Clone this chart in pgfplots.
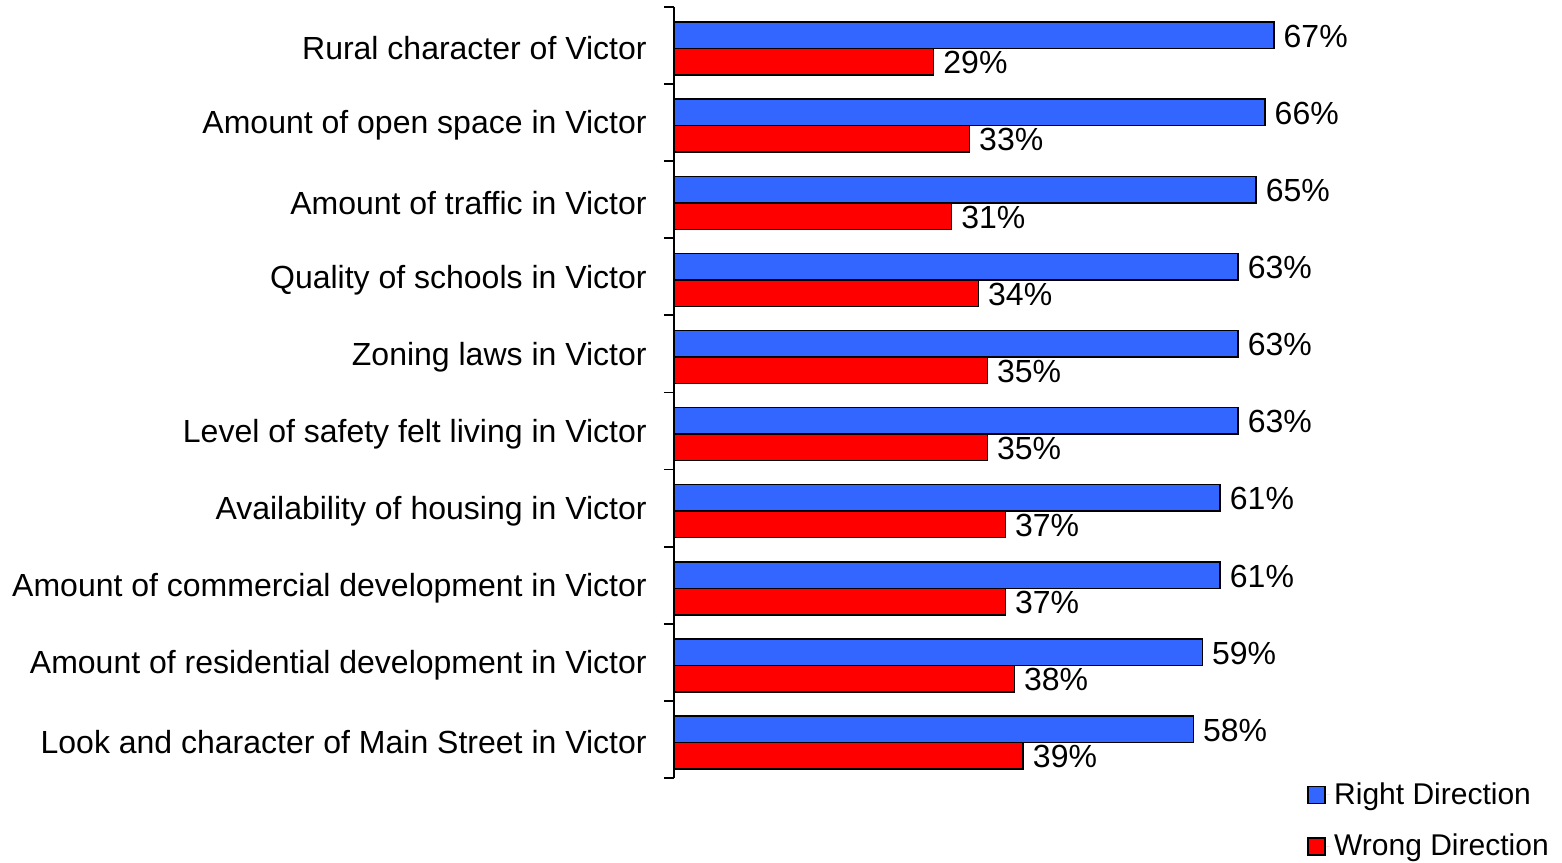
\documentclass[border=0pt]{standalone}
\usepackage{fontspec}
\setmainfont{Liberation Sans}
\usepackage{pgfplots}
\pgfplotsset{compat=1.18}
\usetikzlibrary{calc}
\definecolor{rightblue}{RGB}{51,102,255}
\definecolor{wrongred}{RGB}{255,0,0}

\begin{document}
\begin{tikzpicture}
\begin{axis}[
    scale only axis,
    width=313.4pt, height=385.5pt,
    xbar, bar width=13.25pt,
    xmin=0, xmax=70,
    ymin=-0.5, ymax=9.5,
    y dir=reverse,
    axis x line=none,
    axis y line*=left,
    axis line style={line width=0.9pt},
    ytick={0,...,9},
    yticklabels={Rural character of Victor,
        Amount of open space in Victor,
        Amount of traffic in Victor,
        Quality of schools in Victor,
        Zoning laws in Victor,
        Level of safety felt living in Victor,
        Availability of housing in Victor,
        Amount of commercial development in Victor,
        Amount of residential development in Victor,
        Look and character of Main Street in Victor},
    major tick length=0pt,
    minor ytick={-0.5,0.5,...,9.5},
    minor tick length=5pt,
    tick align=outside,
    ytick pos=left,
    tick style={line width=0.9pt, black},
    yticklabel style={anchor=east, inner sep=0pt, xshift=-13.5pt, yshift=-1.5pt, font=\fontsize{16}{19}\selectfont},
    /pgf/number format/assume math mode=true,
    nodes near coords={\pgfmathprintnumber\pgfplotspointmeta\%},
    nodes near coords style={anchor=west, inner sep=4.5pt, yshift=-0.5pt, font=\fontsize{16}{19}\selectfont, black},
    clip=false,
    legend style={draw=none, fill=none, at={(axis cs:70.7,9.5)}, anchor=north west,
        yshift=0pt, inner sep=0pt, font=\fontsize{15}{18}\selectfont,
        row sep=9.5pt, cells={anchor=west}},
]
\addplot[fill=rightblue, draw=black, line width=0.75pt, bar shift=5.1pt,
    legend image code/.code={\draw[fill=rightblue, draw=black, line width=0.75pt] (0pt,-4.25pt) rectangle (8.5pt,4.25pt); \path[draw=none] (8.5pt,0pt) -- (11pt,0pt);}]
coordinates {
    (67,0) (66,1) (65,2) (63,3) (63,4) (63,5) (61,6) (61,7) (59,8) (58,9)
};
\addlegendentry{Right Direction}
\addplot[fill=wrongred, draw=black, line width=0.75pt, bar shift=-8.15pt,
    legend image code/.code={\draw[fill=wrongred, draw=black, line width=0.75pt] (0pt,-4.25pt) rectangle (8.5pt,4.25pt); \path[draw=none] (8.5pt,0pt) -- (11pt,0pt);}]
coordinates {
    (29,0) (33,1) (31,2) (34,3) (35,4) (35,5) (37,6) (37,7) (38,8) (39,9)
};
\addlegendentry{Wrong Direction}
\coordinate (tl) at (axis cs:0,-0.5);
\end{axis}
\path ($(tl)+(-337pt,3.5pt)$) rectangle ($(tl)+(444pt,-427.5pt)$);
\end{tikzpicture}
\end{document}
